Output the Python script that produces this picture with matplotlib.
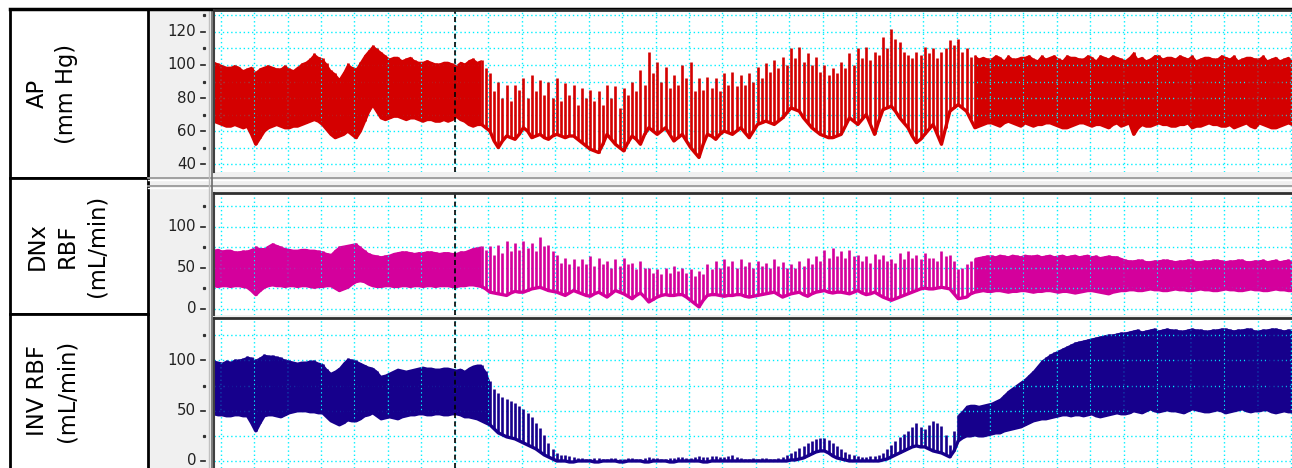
import numpy as np
import matplotlib.pyplot as plt
from matplotlib.patches import Rectangle
from matplotlib.transforms import blended_transform_factory

W, H = 1292, 468

# sample step and start, in grid divisions
T0, DT = -0.2, 0.125
cursor_t = 7.0

# arterial pressure (mm Hg): per-beat peak / trough
ap_hi = [102, 101, 100, 99, 99, 100, 99, 97, 98, 99, 96, 98, 99, 100, 99, 98, 98, 100, 98, 97,
         99, 101, 102, 104, 107, 105, 104, 101, 97, 95, 92, 96, 101, 99, 98, 102, 106, 109, 112, 110,
         108, 106, 104, 105, 105, 103, 104, 105, 103, 102, 102, 103, 102, 101, 101, 102, 102, 101, 100, 102,
         101, 103, 104, 102, 103, 98, 95, 84, 90, 80, 88, 78, 88, 85, 92, 80, 94, 84, 91, 82,
         90, 80, 92, 78, 89, 82, 88, 76, 86, 80, 85, 78, 84, 76, 88, 80, 87, 74, 86, 82,
         90, 84, 97, 88, 108, 95, 102, 90, 99, 86, 94, 88, 100, 92, 102, 84, 92, 85, 93, 86,
         92, 84, 95, 88, 96, 87, 94, 88, 95, 90, 99, 92, 101, 96, 103, 98, 105, 100, 110, 104,
         111, 102, 107, 100, 105, 96, 100, 94, 98, 95, 102, 98, 107, 100, 110, 104, 111, 103, 108, 106,
         117, 110, 122, 116, 114, 108, 106, 104, 108, 106, 111, 107, 110, 104, 108, 110, 115, 112, 116, 108,
         110, 105, 106, 104, 105, 104, 104, 106, 105, 103, 106, 104, 104, 105, 105, 106, 104, 103, 106, 104,
         105, 106, 104, 103, 106, 105, 105, 104, 104, 106, 105, 103, 106, 105, 104, 106, 105, 104, 103, 105,
         108, 104, 105, 103, 104, 106, 106, 104, 105, 105, 104, 106, 105, 104, 106, 103, 104, 105, 105, 104,
         104, 106, 105, 104, 106, 103, 104, 105, 105, 104, 104, 106, 103, 104, 105, 103, 104, 105, 103]
ap_lo = [66, 65, 64, 63, 63, 64, 63, 62, 63, 58, 52, 56, 60, 62, 63, 64, 63, 62, 62, 63,
         63, 64, 65, 66, 67, 66, 64, 61, 58, 56, 57, 58, 60, 58, 56, 60, 66, 72, 76, 72,
         68, 67, 68, 69, 69, 68, 67, 68, 68, 67, 66, 67, 67, 66, 66, 67, 66, 67, 69, 67,
         66, 64, 63, 64, 64, 62, 60, 54, 50, 54, 57, 56, 55, 58, 62, 60, 56, 57, 58, 56,
         55, 57, 58, 57, 56, 57, 57, 55, 53, 51, 49, 48, 47, 52, 58, 55, 52, 50, 48, 53,
         57, 55, 52, 58, 62, 60, 58, 60, 62, 58, 54, 56, 58, 54, 50, 47, 44, 52, 58, 57,
         55, 58, 60, 59, 58, 60, 62, 59, 56, 60, 64, 65, 66, 65, 64, 66, 68, 71, 74, 73,
         72, 68, 65, 62, 60, 58, 57, 56, 56, 57, 58, 63, 68, 66, 64, 67, 70, 64, 58, 66,
         73, 74, 75, 72, 68, 65, 62, 57, 53, 55, 58, 61, 64, 58, 52, 62, 72, 74, 76, 74,
         72, 67, 62, 63, 64, 65, 65, 64, 63, 65, 66, 65, 64, 63, 65, 64, 63, 64, 64, 65,
         65, 64, 63, 62, 62, 63, 64, 65, 65, 64, 63, 64, 64, 63, 62, 64, 65, 63, 64, 65,
         58, 62, 64, 63, 63, 64, 65, 64, 64, 63, 63, 64, 64, 65, 62, 63, 63, 64, 65, 64,
         64, 63, 63, 64, 62, 63, 64, 65, 63, 62, 65, 64, 63, 62, 62, 63, 64, 65, 64]

# denervated kidney blood flow (mL/min)
dnx_hi = [72, 73, 71, 72, 72, 70, 70, 71, 71, 73, 76, 74, 74, 77, 80, 78, 76, 74, 73, 72,
          72, 73, 73, 72, 72, 71, 70, 68, 67, 72, 76, 77, 78, 79, 80, 76, 72, 68, 66, 65,
          64, 65, 66, 68, 69, 70, 70, 69, 68, 69, 69, 70, 70, 69, 68, 69, 69, 68, 68, 70,
          70, 72, 74, 75, 76, 72, 76, 66, 78, 68, 82, 70, 80, 72, 83, 74, 80, 70, 88, 76,
          78, 70, 66, 56, 62, 54, 60, 52, 61, 54, 64, 52, 62, 55, 58, 50, 60, 52, 62, 54,
          56, 48, 58, 50, 50, 44, 48, 42, 50, 44, 52, 46, 50, 44, 48, 40, 46, 42, 55, 48,
          58, 50, 60, 52, 58, 50, 60, 52, 57, 50, 58, 52, 56, 50, 60, 52, 57, 50, 55, 50,
          58, 52, 62, 55, 64, 58, 72, 62, 74, 64, 70, 62, 72, 64, 66, 58, 64, 56, 67, 60,
          65, 58, 60, 56, 68, 60, 70, 62, 66, 60, 68, 62, 62, 58, 70, 64, 66, 58, 48, 50,
          54, 58, 62, 63, 64, 65, 65, 64, 66, 65, 64, 66, 65, 64, 66, 65, 65, 66, 64, 65,
          66, 64, 65, 66, 64, 65, 66, 64, 65, 66, 64, 65, 63, 64, 65, 64, 64, 62, 60, 59,
          59, 60, 60, 58, 58, 59, 59, 60, 60, 59, 58, 59, 59, 60, 60, 58, 58, 59, 59, 60,
          60, 59, 58, 59, 59, 60, 60, 58, 58, 59, 59, 60, 58, 59, 60, 58, 59, 60, 58]
dnx_lo = [28, 27, 28, 28, 27, 28, 28, 27, 26, 22, 17, 22, 26, 28, 29, 28, 28, 27, 28, 28,
          27, 28, 28, 27, 26, 27, 27, 28, 28, 25, 22, 24, 26, 30, 33, 34, 33, 30, 28, 27,
          27, 28, 28, 27, 27, 28, 28, 27, 28, 28, 27, 28, 28, 27, 28, 28, 28, 27, 27, 28,
          28, 29, 29, 28, 27, 24, 20, 19, 18, 17, 16, 19, 21, 20, 20, 22, 24, 25, 26, 24,
          22, 21, 20, 18, 16, 19, 22, 20, 18, 16, 15, 18, 20, 17, 14, 18, 22, 20, 18, 15,
          12, 16, 19, 14, 8, 11, 14, 16, 17, 16, 16, 17, 17, 14, 10, 6, 2, 10, 16, 17,
          17, 16, 15, 16, 16, 17, 17, 15, 14, 15, 16, 17, 18, 19, 20, 17, 14, 16, 18, 19,
          20, 17, 15, 18, 20, 21, 22, 20, 19, 20, 20, 19, 18, 20, 22, 19, 17, 18, 20, 17,
          14, 12, 10, 12, 14, 16, 18, 20, 22, 24, 25, 24, 24, 25, 26, 25, 24, 18, 12, 13,
          14, 18, 20, 21, 22, 21, 21, 22, 22, 21, 20, 21, 21, 22, 22, 21, 20, 21, 21, 22,
          22, 21, 20, 21, 21, 20, 19, 20, 21, 22, 22, 21, 20, 19, 18, 20, 21, 22, 22, 23,
          23, 22, 22, 23, 24, 23, 23, 22, 22, 23, 24, 23, 23, 22, 22, 23, 24, 23, 23, 22,
          22, 23, 24, 23, 23, 22, 22, 23, 24, 23, 23, 22, 22, 23, 24, 23, 23, 22, 22]

# innervated kidney blood flow (mL/min)
inv_hi = [100, 99, 98, 100, 99, 101, 101, 102, 104, 103, 101, 103, 106, 105, 105, 104, 103, 101, 100, 99,
          98, 99, 99, 100, 100, 98, 97, 92, 88, 90, 93, 98, 102, 101, 100, 98, 96, 94, 93, 90,
          85, 86, 88, 90, 92, 91, 90, 91, 92, 93, 94, 93, 93, 92, 92, 93, 93, 92, 91, 92,
          90, 93, 95, 96, 96, 90, 80, 72, 68, 64, 62, 60, 58, 55, 52, 48, 44, 38, 33, 26,
          18, 12, 8, 6, 6, 5, 4, 3, 3, 2, 2, 3, 3, 2, 2, 3, 3, 2, 2, 3,
          3, 2, 2, 3, 4, 3, 3, 2, 2, 3, 3, 4, 4, 3, 3, 4, 5, 4, 4, 5,
          5, 4, 4, 5, 6, 4, 3, 2, 2, 3, 2, 3, 3, 2, 2, 3, 4, 6, 8, 10,
          13, 15, 18, 20, 22, 23, 23, 21, 18, 15, 12, 9, 7, 6, 5, 4, 4, 5, 5, 6,
          8, 12, 16, 20, 24, 27, 30, 34, 38, 34, 32, 36, 40, 38, 35, 26, 16, 30, 46, 50,
          55, 56, 56, 55, 56, 57, 58, 60, 62, 66, 70, 73, 76, 79, 82, 86, 90, 95, 100, 103,
          106, 108, 110, 112, 114, 116, 118, 119, 120, 121, 122, 123, 124, 125, 126, 126, 127, 128, 128, 129,
          130, 131, 129, 130, 131, 132, 130, 131, 132, 131, 131, 130, 130, 131, 132, 131, 131, 130, 130, 131,
          131, 132, 132, 131, 130, 131, 131, 132, 132, 130, 130, 131, 131, 132, 132, 131, 130, 131, 131]
inv_lo = [47, 46, 46, 45, 45, 46, 46, 45, 45, 38, 30, 38, 45, 46, 46, 45, 44, 46, 48, 49,
          50, 50, 50, 49, 49, 48, 48, 44, 40, 38, 36, 38, 41, 40, 40, 42, 45, 46, 48, 45,
          42, 43, 44, 43, 42, 44, 45, 46, 46, 47, 47, 46, 46, 47, 47, 46, 46, 47, 47, 46,
          44, 44, 43, 42, 40, 38, 36, 32, 28, 26, 24, 23, 22, 20, 18, 16, 14, 12, 9, 6,
          4, 2, 0, 0, 0, -1, -1, 0, 0, 0, 0, -1, -1, 0, 0, 0, 0, -1, -1, 0,
          0, 0, 0, -1, -1, 0, 0, 0, 0, -1, -1, 0, 0, 0, 0, 0, 0, -1, -1, 0,
          0, 0, 0, 0, 0, 0, 0, 0, 0, 0, 0, 0, 0, 0, 0, 0, 0, 0, 1, 1,
          2, 3, 5, 7, 9, 10, 10, 8, 5, 3, 2, 1, 0, 0, 0, 0, 0, 0, 0, 0,
          1, 2, 4, 6, 8, 10, 12, 14, 15, 14, 14, 12, 10, 9, 8, 6, 4, 10, 20, 23,
          25, 25, 26, 25, 25, 26, 27, 28, 28, 30, 31, 32, 33, 34, 36, 38, 40, 41, 42, 42,
          43, 44, 45, 46, 46, 45, 46, 46, 45, 46, 47, 45, 44, 45, 46, 47, 48, 47, 47, 48,
          50, 49, 48, 50, 52, 50, 49, 50, 51, 50, 50, 49, 48, 50, 52, 51, 50, 49, 49, 50,
          51, 50, 48, 49, 50, 51, 52, 50, 49, 50, 50, 51, 51, 49, 48, 49, 50, 49, 49]

# stretches where beats merge into a solid band
ap_dense = [(-0.2, 7.8), (22.55, 32.05)]
dnx_dense = [(-0.2, 7.8), (22.55, 32.05)]
inv_dense = [(-0.2, 8.05), (22.05, 32.05)]

channels = [
    dict(label='AP\n(mm Hg)', hi=ap_hi, lo=ap_lo, dense=ap_dense, color='#d40000',
         box=(9, 178), rows=(10, 172), ylim=(35.2, 133.3),
         major=[40, 60, 80, 100, 120], minor=[50, 70, 90, 110, 130], grid=np.arange(40, 131, 10)),
    dict(label='DNx\nRBF\n(mL/min)', hi=dnx_hi, lo=dnx_lo, dense=dnx_dense, color='#d4009c',
         box=(178, 314), rows=(193, 315), ylim=(-7.9, 141.2),
         major=[0, 50, 100], minor=[25, 75, 125], grid=np.arange(0, 126, 25)),
    dict(label='INV RBF\n(mL/min)', hi=inv_hi, lo=inv_lo, dense=inv_dense, color='#16008c',
         box=(314, 470), rows=(318, 468), ylim=(-7.0, 142.3),
         major=[0, 50, 100], minor=[25, 75, 125], grid=np.arange(0, 126, 25)),
]

fig = plt.figure(figsize=(W / 100, H / 100), dpi=100)
bg = fig.add_axes([0, 0, 1, 1])
bg.set_xlim(0, W)
bg.set_ylim(H, 0)
bg.axis('off')


def px_axes(x0, y0, x1, y1):
    return fig.add_axes([x0 / W, 1 - y1 / H, (x1 - x0) / W, (y1 - y0) / H])


# grey frame behind the scale strip and the splitters
bg.add_patch(Rectangle((148, 9), W - 148, H - 9, fc='#f0f0f0', ec='none'))
for y in (178, 186):
    bg.plot([148, W], [y, y], color='#9a9a9a', lw=1.3)
    bg.plot([148, W], [y + 1.5, y + 1.5], color='#ffffff', lw=1)
bg.plot([208.5, 208.5], [9, H], color='#c0c0c0', lw=1)
bg.plot([211.5, 211.5], [9, H], color='#6a6a6a', lw=1.2)
bg.plot([10, W], [9, 9], color='black', lw=2.5)

for ch in channels:
    y0, y1 = ch['rows']
    b0, b1 = ch['box']
    bg.add_patch(Rectangle((10, b0), 138, b1 - b0, fc='white', ec='black', lw=2))
    bg.text(25.5, (b0 + min(b1, H)) / 2, ch['label'], rotation=90, ha='left', va='center',
            fontsize=16.3, linespacing=1.38, multialignment='center', color='black')

    # data panel
    ax = px_axes(214, y0, W, y1)
    ax.set_xlim(-0.2, 32.03)
    ax.set_ylim(*ch['ylim'])
    ax.set_xticks(np.arange(0, 33))
    ax.set_yticks(ch['grid'])
    ax.grid(True, color='#00f0ff', ls=(0, (1, 2)), lw=1)
    ax.tick_params(length=0, labelbottom=False, labelleft=False)
    for side in ('right', 'bottom'):
        ax.spines[side].set_visible(False)
    ax.spines['left'].set_color('#404040')
    ax.spines['left'].set_linewidth(1.5)
    ax.spines['top'].set_color('#303030')
    ax.spines['top'].set_linewidth(2)

    hi = np.asarray(ch['hi'], float)
    lo = np.asarray(ch['lo'], float)
    t = T0 + DT * np.arange(len(hi))
    mask = np.zeros(len(t), bool)
    for a, b in ch['dense']:
        mask |= (t >= a - 1e-6) & (t <= b + 1e-6)
    ax.fill_between(t, lo, hi, where=mask, color=ch['color'], lw=0)
    ax.vlines(t, lo, hi, color=ch['color'], lw=1.9)
    ax.plot(t, lo, color=ch['color'], lw=2.4)
    ax.axvline(cursor_t, color='black', ls=(0, (3, 2)), lw=1.2)

    # scale strip
    st = px_axes(148, y0, 208, y1)
    st.set_ylim(*ch['ylim'])
    st.set_xlim(0, 1)
    st.set_facecolor('#f0f0f0')
    st.axis('off')
    tr = blended_transform_factory(st.transAxes, st.transData)
    for v in ch['major']:
        st.text(0.8, v, str(v), transform=tr, ha='right', va='center',
                fontsize=10.8, color='#222222', clip_on=True)
        st.plot([0.89, 0.95], [v, v], transform=tr, color='#222222', lw=1.2, clip_on=True)
    for v in ch['minor']:
        st.plot([0.93], [v], 's', ms=1.3, color='#333333', transform=tr, clip_on=True)

fig.savefig('out.png', dpi=100)
